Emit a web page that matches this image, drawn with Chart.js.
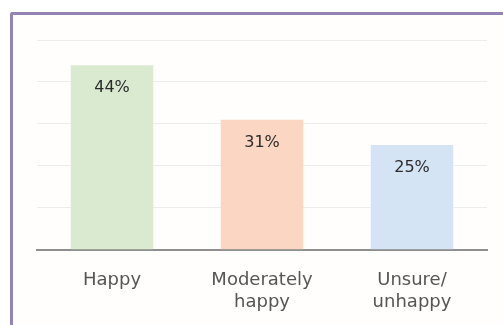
<!DOCTYPE html>
<html>
<head>
<meta charset="utf-8">
<script src="https://cdn.jsdelivr.net/npm/chart.js@4"></script>
<style>
  html, body { margin: 0; padding: 0; background: #ffffff; overflow: hidden; }
  #frame {
    position: absolute; left: 10px; top: 12px; width: 520px; height: 340px;
    border-left: 3px solid #9484b4; border-top: 3px solid #9484b4;
    border-top-left-radius: 3px; background: #fffefc;
  }
  #wrap { position: absolute; left: 0; top: 0; width: 503px; height: 325px; }
</style>
</head>
<body>
<div id="frame"></div>
<div id="wrap"><canvas id="graph" width="503" height="325"></canvas></div>
<script>
// Kategorien und Werte
const categories = [["Happy"], ["Moderately", "happy"], ["Unsure/", "unhappy"]];
const values = [44, 31, 25];
const barColors = ["#d9ead0", "#fbd6c2", "#d4e4f5"];

// Prozent-Beschriftung in den Balken
const valueLabels = {
  id: "valueLabels",
  afterDatasetsDraw(chart) {
    const ctx = chart.ctx;
    const meta = chart.getDatasetMeta(0);
    ctx.save();
    ctx.font = "16px 'DejaVu Sans'";
    ctx.fillStyle = "#2b2b2b";
    ctx.textAlign = "center";
    ctx.textBaseline = "middle";
    meta.data.forEach((bar, i) => {
      ctx.fillText(values[i] + "%", bar.x, bar.y + 23);
    });
    ctx.restore();
  },
};

new Chart(document.getElementById("graph").getContext("2d"), {
  type: "bar",
  data: {
    labels: categories,
    datasets: [
      {
        data: values,
        backgroundColor: barColors,
        borderWidth: 0,
        barPercentage: 0.55,
        categoryPercentage: 1,
      },
    ],
  },
  plugins: [valueLabels],
  options: {
    responsive: false,
    animation: false,
    layout: { padding: { left: 37, right: 16, top: 40, bottom: 0 } },
    plugins: {
      legend: { display: false },
      tooltip: { enabled: false },
    },
    scales: {
      x: {
        grid: { display: false },
        border: { color: "#8f8f8f", width: 2 },
        ticks: {
          color: "#555555",
          font: { family: "DejaVu Sans", size: 18, lineHeight: 1.2 },
          padding: 12,
          maxRotation: 0,
        },
      },
      y: {
        min: 0,
        max: 50,
        ticks: { display: false, stepSize: 10 },
        border: { display: false },
        grid: { color: "#ececec", drawTicks: false },
      },
    },
  },
});
</script>
</body>
</html>
